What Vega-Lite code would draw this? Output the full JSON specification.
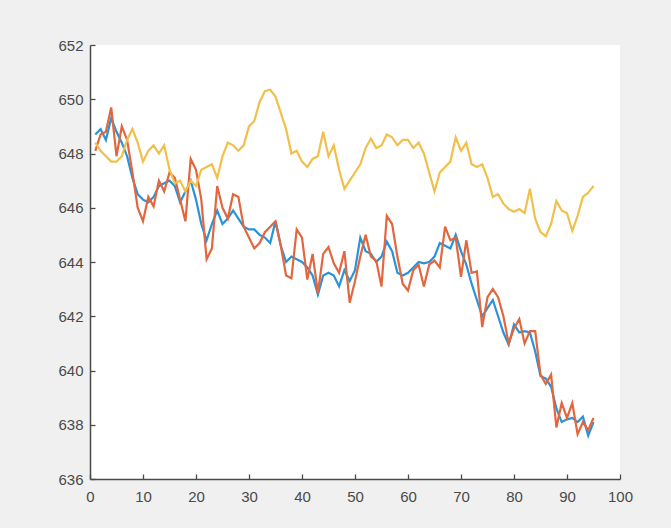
{
  "$schema": "https://vega.github.io/schema/vega-lite/v6.json",
  "autosize": {"type": "none"},
  "padding": {"left": 90, "top": 45, "right": 51, "bottom": 49},
  "width": 530,
  "height": 434,
  "background": "#f0f0f0",
  "view": {"fill": "white", "stroke": null},
  "config": {
    "axis": {
      "grid": false,
      "domainColor": "#4a4a4a",
      "domainWidth": 1.5,
      "tickColor": "#4a4a4a",
      "tickWidth": 1.3,
      "tickSize": -5,
      "labelColor": "#4a4a4a",
      "labelFont": "Liberation Sans",
      "labelFontSize": 15,
      "title": null
    }
  },
  "data": {
    "values": [
      {"x":1,"blue":648.7,"orange":648.1,"yellow":648.4},
      {"x":2,"blue":648.9,"orange":648.7,"yellow":648.1},
      {"x":3,"blue":648.5,"orange":648.8,"yellow":647.9},
      {"x":4,"blue":649.3,"orange":649.7,"yellow":647.7},
      {"x":5,"blue":648.8,"orange":647.9,"yellow":647.7},
      {"x":6,"blue":648.4,"orange":649.0,"yellow":647.9},
      {"x":7,"blue":647.9,"orange":648.5,"yellow":648.5},
      {"x":8,"blue":647.1,"orange":647.3,"yellow":648.9},
      {"x":9,"blue":646.5,"orange":646.0,"yellow":648.4},
      {"x":10,"blue":646.3,"orange":645.5,"yellow":647.7},
      {"x":11,"blue":646.2,"orange":646.4,"yellow":648.1},
      {"x":12,"blue":646.4,"orange":646.05,"yellow":648.3},
      {"x":13,"blue":646.8,"orange":647.0,"yellow":648.0},
      {"x":14,"blue":646.9,"orange":646.6,"yellow":648.3},
      {"x":15,"blue":647.0,"orange":647.3,"yellow":647.4},
      {"x":16,"blue":646.8,"orange":647.1,"yellow":646.9},
      {"x":17,"blue":646.2,"orange":646.3,"yellow":647.0},
      {"x":18,"blue":646.6,"orange":645.5,"yellow":646.6},
      {"x":19,"blue":647.0,"orange":647.8,"yellow":647.0},
      {"x":20,"blue":646.3,"orange":647.4,"yellow":646.8},
      {"x":21,"blue":645.4,"orange":646.3,"yellow":647.4},
      {"x":22,"blue":644.8,"orange":644.1,"yellow":647.5},
      {"x":23,"blue":645.4,"orange":644.5,"yellow":647.6},
      {"x":24,"blue":645.9,"orange":646.8,"yellow":647.1},
      {"x":25,"blue":645.4,"orange":646.0,"yellow":647.9},
      {"x":26,"blue":645.6,"orange":645.6,"yellow":648.4},
      {"x":27,"blue":645.9,"orange":646.5,"yellow":648.3},
      {"x":28,"blue":645.6,"orange":646.4,"yellow":648.1},
      {"x":29,"blue":645.3,"orange":645.3,"yellow":648.3},
      {"x":30,"blue":645.2,"orange":644.9,"yellow":649.0},
      {"x":31,"blue":645.2,"orange":644.5,"yellow":649.2},
      {"x":32,"blue":645.0,"orange":644.7,"yellow":649.9},
      {"x":33,"blue":644.9,"orange":645.1,"yellow":650.3},
      {"x":34,"blue":644.7,"orange":645.3,"yellow":650.35},
      {"x":35,"blue":645.5,"orange":645.5,"yellow":650.1},
      {"x":36,"blue":644.6,"orange":644.6,"yellow":649.5},
      {"x":37,"blue":644.0,"orange":643.5,"yellow":648.9},
      {"x":38,"blue":644.2,"orange":643.4,"yellow":648.0},
      {"x":39,"blue":644.1,"orange":645.2,"yellow":648.1},
      {"x":40,"blue":644.0,"orange":644.9,"yellow":647.7},
      {"x":41,"blue":643.8,"orange":643.35,"yellow":647.5},
      {"x":42,"blue":643.5,"orange":644.3,"yellow":647.8},
      {"x":43,"blue":642.8,"orange":642.85,"yellow":647.9},
      {"x":44,"blue":643.5,"orange":644.3,"yellow":648.8},
      {"x":45,"blue":643.6,"orange":644.55,"yellow":647.9},
      {"x":46,"blue":643.5,"orange":643.95,"yellow":648.3},
      {"x":47,"blue":643.1,"orange":643.6,"yellow":647.4},
      {"x":48,"blue":643.7,"orange":644.4,"yellow":646.7},
      {"x":49,"blue":643.3,"orange":642.5,"yellow":647.0},
      {"x":50,"blue":643.7,"orange":643.3,"yellow":647.3},
      {"x":51,"blue":644.9,"orange":644.2,"yellow":647.6},
      {"x":52,"blue":644.4,"orange":645.0,"yellow":648.2},
      {"x":53,"blue":644.3,"orange":644.2,"yellow":648.55},
      {"x":54,"blue":644.0,"orange":644.05,"yellow":648.2},
      {"x":55,"blue":644.2,"orange":643.1,"yellow":648.3},
      {"x":56,"blue":644.75,"orange":645.7,"yellow":648.7},
      {"x":57,"blue":644.4,"orange":645.4,"yellow":648.6},
      {"x":58,"blue":643.6,"orange":644.2,"yellow":648.3},
      {"x":59,"blue":643.5,"orange":643.2,"yellow":648.5},
      {"x":60,"blue":643.6,"orange":642.95,"yellow":648.5},
      {"x":61,"blue":643.8,"orange":643.7,"yellow":648.2},
      {"x":62,"blue":644.0,"orange":643.9,"yellow":648.4},
      {"x":63,"blue":643.95,"orange":643.1,"yellow":648.0},
      {"x":64,"blue":644.0,"orange":643.9,"yellow":647.3},
      {"x":65,"blue":644.2,"orange":644.05,"yellow":646.6},
      {"x":66,"blue":644.7,"orange":643.8,"yellow":647.3},
      {"x":67,"blue":644.6,"orange":645.3,"yellow":647.5},
      {"x":68,"blue":644.5,"orange":644.8,"yellow":647.7},
      {"x":69,"blue":645.0,"orange":644.9,"yellow":648.6},
      {"x":70,"blue":644.4,"orange":643.45,"yellow":648.1},
      {"x":71,"blue":643.9,"orange":644.8,"yellow":648.4},
      {"x":72,"blue":643.2,"orange":643.6,"yellow":647.6},
      {"x":73,"blue":642.6,"orange":643.65,"yellow":647.5},
      {"x":74,"blue":642.0,"orange":641.6,"yellow":647.6},
      {"x":75,"blue":642.3,"orange":642.7,"yellow":647.1},
      {"x":76,"blue":642.6,"orange":643.0,"yellow":646.4},
      {"x":77,"blue":642.0,"orange":642.7,"yellow":646.5},
      {"x":78,"blue":641.4,"orange":642.0,"yellow":646.15},
      {"x":79,"blue":640.95,"orange":641.0,"yellow":645.95},
      {"x":80,"blue":641.7,"orange":641.55,"yellow":645.85},
      {"x":81,"blue":641.4,"orange":641.9,"yellow":645.95},
      {"x":82,"blue":641.45,"orange":641.0,"yellow":645.8},
      {"x":83,"blue":641.4,"orange":641.45,"yellow":646.7},
      {"x":84,"blue":640.7,"orange":641.45,"yellow":645.6},
      {"x":85,"blue":639.8,"orange":639.85,"yellow":645.1},
      {"x":86,"blue":639.7,"orange":639.5,"yellow":644.95},
      {"x":87,"blue":639.4,"orange":639.85,"yellow":645.4},
      {"x":88,"blue":638.6,"orange":637.9,"yellow":646.25},
      {"x":89,"blue":638.1,"orange":638.8,"yellow":645.9},
      {"x":90,"blue":638.2,"orange":638.25,"yellow":645.8},
      {"x":91,"blue":638.25,"orange":638.8,"yellow":645.15},
      {"x":92,"blue":638.1,"orange":637.65,"yellow":645.7},
      {"x":93,"blue":638.3,"orange":638.1,"yellow":646.4},
      {"x":94,"blue":637.6,"orange":637.8,"yellow":646.55},
      {"x":95,"blue":638.1,"orange":638.25,"yellow":646.8}
    ]
  },
  "transform": [
    {"fold": ["blue", "orange", "yellow"], "as": ["series", "value"]}
  ],
  "mark": {"type": "line", "strokeWidth": 2.2, "interpolate": "linear"},
  "encoding": {
    "x": {
      "field": "x",
      "type": "quantitative",
      "scale": {"domain": [0, 100], "nice": false, "zero": false},
      "axis": {"values": [0,10,20,30,40,50,60,70,80,90,100], "labelPadding": 15, "labelFlush": false}
    },
    "y": {
      "field": "value",
      "type": "quantitative",
      "scale": {"domain": [636, 652], "nice": false, "zero": false},
      "axis": {"values": [636,638,640,642,644,646,648,650,652], "labelPadding": 12}
    },
    "color": {
      "field": "series",
      "type": "nominal",
      "scale": {"domain": ["blue", "orange", "yellow"], "range": ["#2a93d8", "#e2663e", "#f0c04a"]},
      "legend": null
    }
  }
}
